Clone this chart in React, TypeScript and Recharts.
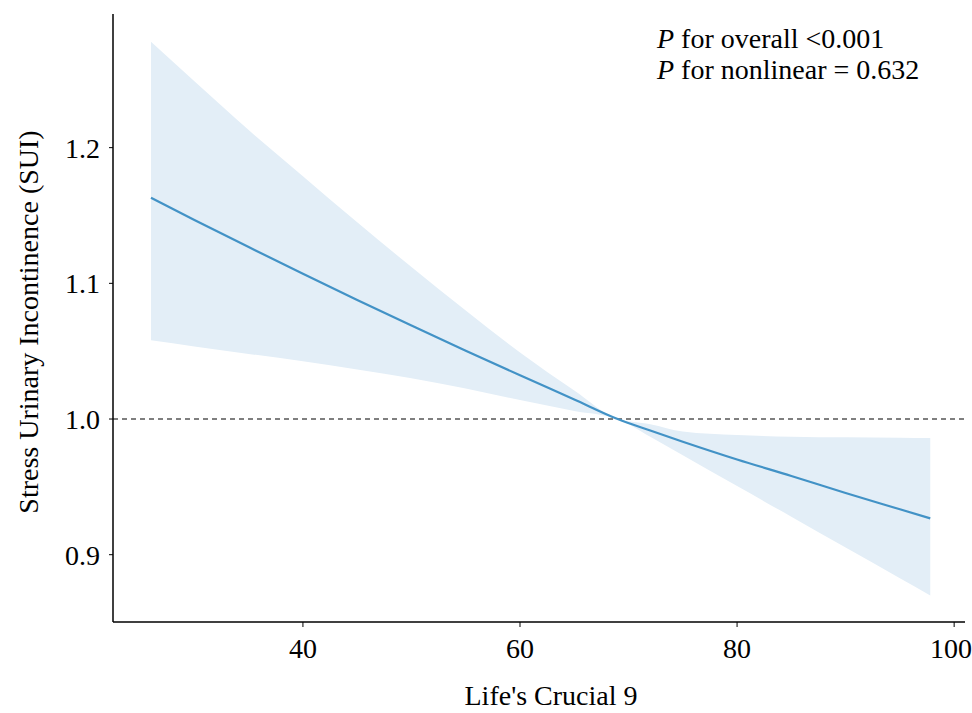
import React from 'react'
import { ComposedChart, Area, Line, XAxis, YAxis, ReferenceLine } from 'recharts'

const FONT = '"Liberation Serif", "Times New Roman", serif'

// Life's Crucial 9 score (x) and odds ratio fit with 95% CI
const lc9 = [26, 30, 35, 40, 45, 50, 55, 60, 65, 69, 72, 75, 80, 85, 90, 95, 97.8]
const orFit = [1.163, 1.1467, 1.1267, 1.1071, 1.0878, 1.0689, 1.0503, 1.0322, 1.0144, 1.0, 0.9915, 0.9833, 0.9702, 0.958, 0.9455, 0.9335, 0.9268]
const orLower = [1.058, 1.0535, 1.048, 1.0425, 1.0365, 1.03, 1.0225, 1.014, 1.006, 1.0, 0.9869, 0.9733, 0.9506, 0.928, 0.9053, 0.8827, 0.87]
const orUpper = [1.278, 1.249, 1.213, 1.179, 1.145, 1.112, 1.08, 1.049, 1.021, 1.0, 0.9962, 0.9908, 0.9882, 0.987, 0.9865, 0.9862, 0.986]

const xTicks = [40, 60, 80, 100]
const yTicks = [0.9, 1.0, 1.1, 1.2]

const data = lc9.map((x, i) => ({ x, fit: orFit[i], band: [orLower[i], orUpper[i]] }))

const tickStyle = { fill: '#000', fontSize: 28, fontFamily: FONT }

export default function App() {
  return (
    <div style={{ position: 'absolute', left: 0, top: 0 }}>
      <ComposedChart width={972} height={713} data={data} margin={{ top: 14, right: 7, bottom: 0, left: 0 }}>
        <XAxis
          type="number"
          dataKey="x"
          domain={[22.5, 101]}
          ticks={xTicks}
          allowDataOverflow
          height={91}
          tick={tickStyle}
          tickSize={5}
          tickMargin={11}
          axisLine={{ stroke: '#000', strokeWidth: 1.5 }}
          tickLine={{ stroke: '#000' }}
          label={{
            content: (p: any) => (
              <text x={p.viewBox.x + p.viewBox.width / 2 + 12} y={705} textAnchor="middle" fontSize={28} fontFamily={FONT} fill="#000">
                Life's Crucial 9
              </text>
            ),
          }}
        />
        <YAxis
          type="number"
          domain={[0.8504, 1.2985]}
          ticks={yTicks}
          allowDataOverflow
          width={113}
          tick={tickStyle}
          tickFormatter={(v: number) => v.toFixed(1)}
          tickSize={4}
          tickMargin={9}
          axisLine={{ stroke: '#000', strokeWidth: 1.5 }}
          tickLine={{ stroke: '#000' }}
          label={{
            content: (p: any) => {
              const cy = p.viewBox.y + p.viewBox.height / 2 + 4
              return (
                <text x={38} y={cy} transform={`rotate(-90 38 ${cy})`} textAnchor="middle" fontSize={28} fontFamily={FONT} fill="#000">
                  Stress Urinary Incontinence (SUI)
                </text>
              )
            },
          }}
        />
        <Area type="monotone" dataKey="band" stroke="none" fill="#e3eef7" fillOpacity={1} isAnimationActive={false} />
        <ReferenceLine y={1} stroke="#000" strokeWidth={1.2} strokeDasharray="5 4" />
        <Line type="monotone" dataKey="fit" stroke="#4292c6" strokeWidth={2.2} dot={false} isAnimationActive={false} />
        <text x={657} y={48} fontSize={28} fontFamily={FONT} fill="#000">
          <tspan fontStyle="italic">P</tspan> for overall &lt;0.001
        </text>
        <text x={657} y={79} fontSize={28} fontFamily={FONT} fill="#000">
          <tspan fontStyle="italic">P</tspan> for nonlinear = 0.632
        </text>
      </ComposedChart>
    </div>
  )
}
